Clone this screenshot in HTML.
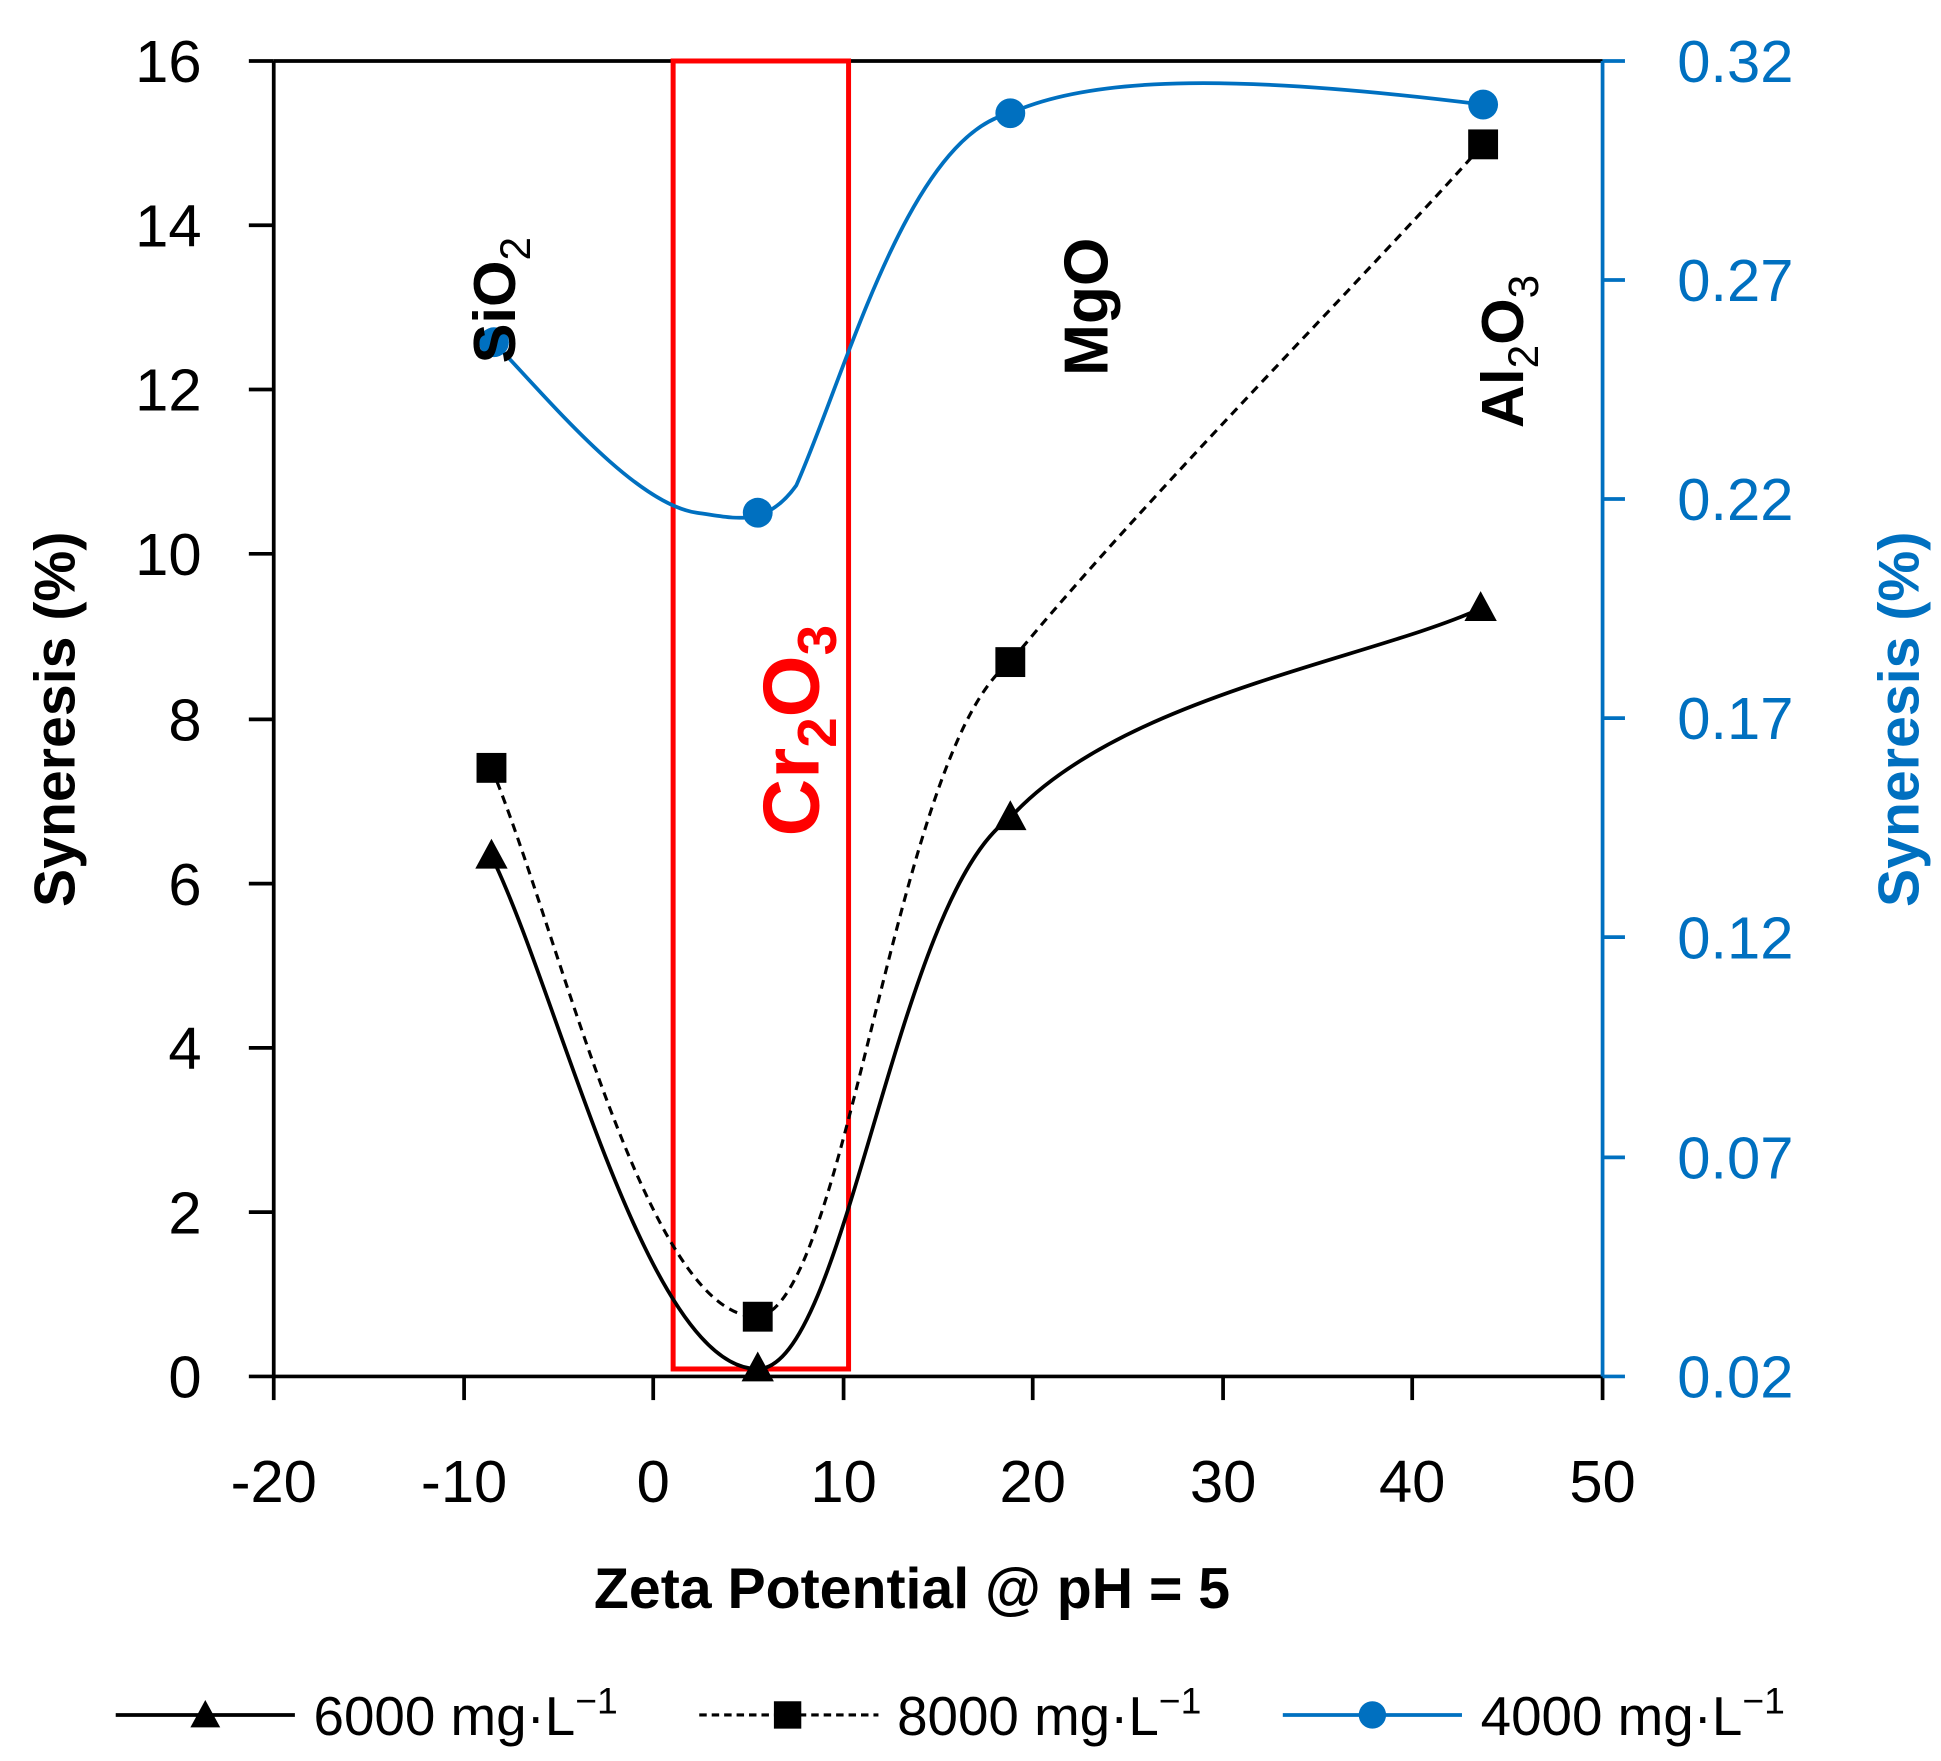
<!DOCTYPE html>
<html><head><style>html,body{margin:0;padding:0;background:#fff}svg{display:block}</style></head>
<body>
<svg width="1941" height="1761" viewBox="0 0 1560 1415" preserveAspectRatio="none" xmlns="http://www.w3.org/2000/svg" font-family="Liberation Sans, sans-serif">
<rect width="1560" height="1415" fill="#fff"/>
<line x1="220" y1="49" x2="220" y2="1106" stroke="#000" stroke-width="3"/>
<line x1="220" y1="49" x2="1288" y2="49" stroke="#000" stroke-width="3"/>
<line x1="200" y1="1106" x2="1288" y2="1106" stroke="#000" stroke-width="3"/>
<line x1="1288" y1="49" x2="1288" y2="1106" stroke="#0070c0" stroke-width="3"/>
<g stroke="#000" stroke-width="3">
<line x1="200" y1="49" x2="220" y2="49"/><line x1="200" y1="181" x2="220" y2="181"/><line x1="200" y1="313" x2="220" y2="313"/><line x1="200" y1="445" x2="220" y2="445"/><line x1="200" y1="578" x2="220" y2="578"/><line x1="200" y1="710" x2="220" y2="710"/><line x1="200" y1="842" x2="220" y2="842"/><line x1="200" y1="974" x2="220" y2="974"/>
<line x1="220" y1="1106" x2="220" y2="1125"/><line x1="373" y1="1106" x2="373" y2="1125"/><line x1="525" y1="1106" x2="525" y2="1125"/><line x1="678" y1="1106" x2="678" y2="1125"/><line x1="830" y1="1106" x2="830" y2="1125"/><line x1="983" y1="1106" x2="983" y2="1125"/><line x1="1135" y1="1106" x2="1135" y2="1125"/><line x1="1288" y1="1106" x2="1288" y2="1125"/>
</g>
<g stroke="#0070c0" stroke-width="3">
<line x1="1288" y1="49" x2="1306" y2="49"/><line x1="1288" y1="225" x2="1306" y2="225"/><line x1="1288" y1="401" x2="1306" y2="401"/><line x1="1288" y1="577" x2="1306" y2="577"/><line x1="1288" y1="753" x2="1306" y2="753"/><line x1="1288" y1="930" x2="1306" y2="930"/><line x1="1288" y1="1106" x2="1306" y2="1106"/>
</g>
<g font-size="48" text-anchor="end" fill="#000">
<text x="162" y="66">16</text><text x="162" y="198">14</text><text x="162" y="330">12</text><text x="162" y="462">10</text><text x="162" y="595">8</text><text x="162" y="727">6</text><text x="162" y="859">4</text><text x="162" y="991">2</text><text x="162" y="1123">0</text>
</g>
<g font-size="48" text-anchor="middle" fill="#000">
<text x="220" y="1207">-20</text><text x="373" y="1207">-10</text><text x="525" y="1207">0</text><text x="678" y="1207">10</text><text x="830" y="1207">20</text><text x="983" y="1207">30</text><text x="1135" y="1207">40</text><text x="1288" y="1207">50</text>
</g>
<g font-size="48" fill="#0070c0">
<text x="1348" y="66">0.32</text><text x="1348" y="242">0.27</text><text x="1348" y="418">0.22</text><text x="1348" y="594">0.17</text><text x="1348" y="770">0.12</text><text x="1348" y="947">0.07</text><text x="1348" y="1123">0.02</text>
</g>
<text x="733" y="1292" font-size="46" font-weight="bold" text-anchor="middle">Zeta Potential @ pH = 5</text>
<text transform="translate(60,578) rotate(-90)" font-size="46" font-weight="bold" text-anchor="middle">Syneresis (%)</text>
<text transform="translate(1542,578) rotate(-90)" font-size="46" font-weight="bold" text-anchor="middle" fill="#0070c0">Syneresis (%)</text>
<rect x="541" y="49" width="141" height="1051" fill="none" stroke="#ff0000" stroke-width="4"/>
<path d="M397,275 C440,320 510,405 560,412 C590,416 615,425 640,390 C680,300 730,110 812,91 C880,60 1000,60 1192,84" fill="none" stroke="#0070c0" stroke-width="3"/>
<path d="M395,688 C450,800 520,1100 609,1100 C680,1100 720,720 812,657 C900,560 1100,530 1190,489" fill="none" stroke="#000" stroke-width="3"/>
<path d="M395,617 C450,750 520,1060 609,1058 C680,1050 720,600 812,532 C920,400 1100,220 1192,116" fill="none" stroke="#000" stroke-width="2.5" stroke-dasharray="7,5"/>
<g fill="#0070c0"><circle cx="397" cy="275" r="12"/><circle cx="609" cy="412" r="12"/><circle cx="812" cy="91" r="12"/><circle cx="1192" cy="84" r="12"/></g>
<g fill="#000"><rect x="383" y="605" width="24" height="24"/><rect x="597" y="1046" width="24" height="24"/><rect x="800" y="520" width="24" height="24"/><rect x="1180" y="104" width="24" height="24"/></g>
<g fill="#000"><polygon points="395,674 382,698 408,698"/><polygon points="609,1086 596,1110 622,1110"/><polygon points="812,643 799,667 825,667"/><polygon points="1190,475 1177,499 1203,499"/></g>
<text transform="translate(414,292) rotate(-90)" font-size="48" font-weight="bold">SiO<tspan font-size="34" font-weight="normal" dy="12">2</tspan></text>
<text transform="translate(890,302) rotate(-90)" font-size="50" font-weight="bold">MgO</text>
<text transform="translate(1224,344) rotate(-90)" font-size="48" font-weight="bold">Al<tspan font-size="34" font-weight="normal" dy="12">2</tspan><tspan dy="-12">O</tspan><tspan font-size="34" font-weight="normal" dy="12">3</tspan></text>
<text transform="translate(658,672) rotate(-90)" font-size="64" font-weight="bold" fill="#ff0000">Cr<tspan font-size="44" dy="14">2</tspan><tspan dy="-14">O</tspan><tspan font-size="44" dy="14">3</tspan></text>
<line x1="93" y1="1378" x2="237" y2="1378" stroke="#000" stroke-width="3"/>
<polygon points="165,1366 153,1388 177,1388" fill="#000"/>
<text x="252" y="1394" font-size="44">6000 mg·L<tspan font-size="30" dy="-17">−1</tspan></text>
<line x1="562" y1="1378" x2="706" y2="1378" stroke="#000" stroke-width="2.5" stroke-dasharray="6,4"/>
<rect x="622" y="1367" width="22" height="22" fill="#000"/>
<text x="721" y="1394" font-size="44">8000 mg·L<tspan font-size="30" dy="-17">−1</tspan></text>
<line x1="1031" y1="1378" x2="1175" y2="1378" stroke="#0070c0" stroke-width="3"/>
<circle cx="1103" cy="1378" r="11" fill="#0070c0"/>
<text x="1190" y="1394" font-size="44">4000 mg·L<tspan font-size="30" dy="-17">−1</tspan></text>
</svg>
</body></html>
